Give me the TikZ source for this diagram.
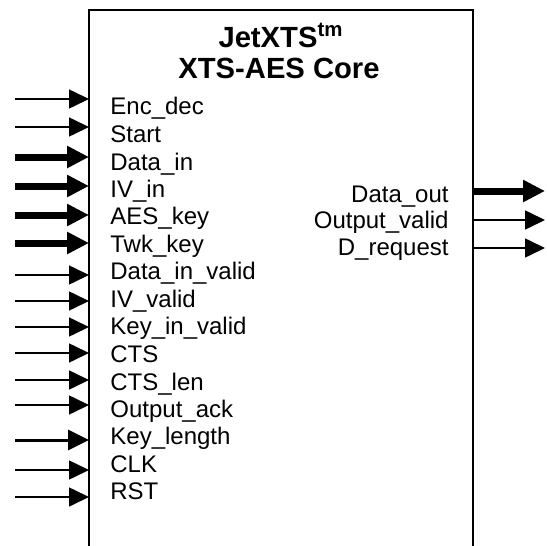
\documentclass[tikz,border=0pt]{standalone}
\usepackage{fontspec}
\setmainfont{Liberation Sans}
\usetikzlibrary{arrows.meta}

\begin{document}
\begin{tikzpicture}[x=0.5pt, y=-0.5pt, font=\fontsize{12}{14}\selectfont,
  sig/.style={line width=0.8pt, -{Triangle[length=10pt, width=9.5pt]}},
  wide/.style={line width=1.5pt, -{Triangle[length=10.5pt, width=10pt]}},
  bus/.style={line width=3.5pt, -{Triangle[length=11pt, width=10.5pt]}},
  port/.style={anchor=base west, inner sep=0pt},
  oport/.style={anchor=base east, inner sep=0pt},
  title/.style={anchor=base, inner sep=0pt, font=\fontsize{14.6}{16}\selectfont\bfseries}]
  \useasboundingbox (0,0) rectangle (546,546);
  % core outline, open at the bottom
  \node[minimum width=192pt, minimum height=268pt, inner sep=0pt, outer sep=0pt] (core) at (281,278) {};
  \draw[line width=1pt] (core.south west) -- (core.north west) -- (core.north east) -- (core.south east);
  \node[title] (name) at (281,47) {JetXTS\textsuperscript{tm}};
  \node[title] (kind) at (279,78) {XTS-AES Core};

  % inputs
  \node[port] (encdec) at (110,114) {Enc\_dec};
  \coordinate (encdec-in) at (15,99);
  \draw[sig] (encdec-in) -- (encdec-in -| core.west);
  \node[port] (start) at (110,142) {Start};
  \coordinate (start-in) at (15,127);
  \draw[sig] (start-in) -- (start-in -| core.west);
  \node[port] (datain) at (110,170) {Data\_in};
  \coordinate (datain-in) at (15,157);
  \draw[bus] (datain-in) -- (datain-in -| core.west);
  \node[port] (ivin) at (110,197) {IV\_in};
  \coordinate (ivin-in) at (15,186);
  \draw[bus] (ivin-in) -- (ivin-in -| core.west);
  \node[port] (aeskey) at (110,224) {AES\_key};
  \coordinate (aeskey-in) at (15,215);
  \draw[bus] (aeskey-in) -- (aeskey-in -| core.west);
  \node[port] (twkkey) at (110,252) {Twk\_key};
  \coordinate (twkkey-in) at (15,243);
  \draw[bus] (twkkey-in) -- (twkkey-in -| core.west);
  \node[port] (dinvalid) at (110,279) {Data\_in\_valid};
  \coordinate (dinvalid-in) at (15,275);
  \draw[sig] (dinvalid-in) -- (dinvalid-in -| core.west);
  \node[port] (ivvalid) at (110,307) {IV\_valid};
  \coordinate (ivvalid-in) at (15,301);
  \draw[sig] (ivvalid-in) -- (ivvalid-in -| core.west);
  \node[port] (keyvalid) at (110,334) {Key\_in\_valid};
  \coordinate (keyvalid-in) at (15,327);
  \draw[sig] (keyvalid-in) -- (keyvalid-in -| core.west);
  \node[port] (cts) at (110,362) {CTS};
  \coordinate (cts-in) at (15,353);
  \draw[sig] (cts-in) -- (cts-in -| core.west);
  \node[port] (ctslen) at (110,390) {CTS\_len};
  \coordinate (ctslen-in) at (15,380);
  \draw[sig] (ctslen-in) -- (ctslen-in -| core.west);
  \node[port] (outack) at (110,417) {Output\_ack};
  \coordinate (outack-in) at (15,405);
  \draw[sig] (outack-in) -- (outack-in -| core.west);
  \node[port] (keylen) at (110,444) {Key\_length};
  \coordinate (keylen-in) at (15,440);
  \draw[wide] (keylen-in) -- (keylen-in -| core.west);
  \node[port] (clk) at (110,472) {CLK};
  \coordinate (clk-in) at (15,470);
  \draw[sig] (clk-in) -- (clk-in -| core.west);
  \node[port] (rst) at (110,499) {RST};
  \coordinate (rst-in) at (15,497);
  \draw[sig] (rst-in) -- (rst-in -| core.west);

  % outputs
  \node[oport] (dataout) at (449,202) {Data\_out};
  \coordinate (dataout-out) at (545,191);
  \draw[bus] (dataout-out -| core.east) -- (dataout-out);
  \node[oport] (outvalid) at (449,228) {Output\_valid};
  \coordinate (outvalid-out) at (545,220);
  \draw[sig] (outvalid-out -| core.east) -- (outvalid-out);
  \node[oport] (dreq) at (449,255) {D\_request};
  \coordinate (dreq-out) at (545,248);
  \draw[sig] (dreq-out -| core.east) -- (dreq-out);
\end{tikzpicture}
\end{document}
